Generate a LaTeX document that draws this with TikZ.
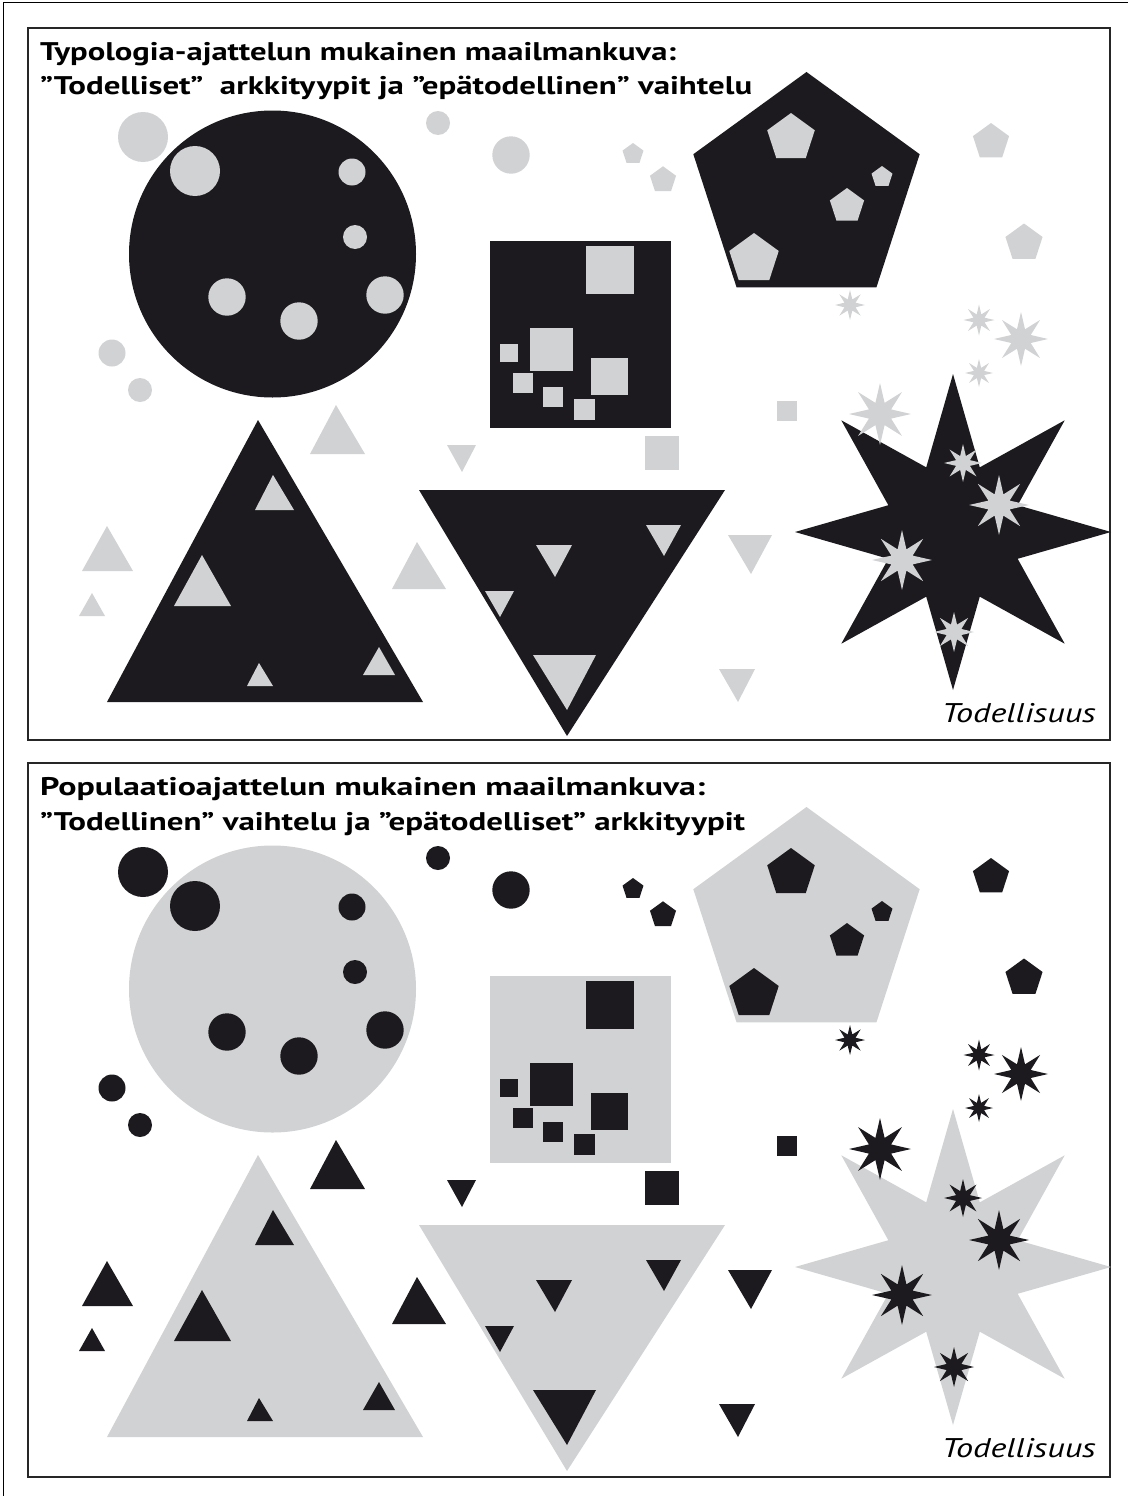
\documentclass[tikz,border=0pt]{standalone}
\usepackage{graphicx}
\usepackage{fontspec}
\setmainfont{PT Sans}
\definecolor{blk}{HTML}{1C1A1E}
\definecolor{gry}{HTML}{D1D2D4}
\newcommand\pent[4]{\fill[#1,shift={(#2,#3)}] (-90:#4) -- (-18:#4) -- (54:#4) -- (126:#4) -- (198:#4) -- cycle;}
\newcommand\astar[5]{\fill[#1,shift={(#2,#3)}] (-90:#4) \foreach \k in {1,...,15}{ -- ({-90+22.5*\k}:{mod(\k,2)==1 ? #5 : #4}) } -- cycle;}
\newcommand\tri[6]{\fill[#1] (#2,#3) -- (#5,#4) -- (#6,#4) -- cycle;}
\newcommand\sq[5]{\fill[#1] (#2,#3) rectangle (#4,#5);}
\newcommand\disc[4]{\fill[#1] (#2,#3) circle (#4);}
\newcommand\wide[2]{\resizebox{#1pt}{\height}{#2}}
\newcommand\panelshapes[2]{%
 % big shapes
 \disc{#1}{272.5}{254}{143.5}
 \pent{#1}{806.5}{191}{119}
 \sq{#1}{490}{241}{671}{428}
 \tri{#1}{258}{420}{702}{107}{423}
 \tri{#1}{567}{736}{490}{419}{725}
 \astar{#1}{953}{532}{158}{70}
 % circles
 \disc{#2}{195}{171}{25}
 \disc{#2}{352}{172}{13.5}
 \disc{#2}{355}{237}{12}
 \disc{#2}{227}{297}{18.7}
 \disc{#2}{299}{321}{18.7}
 \disc{#2}{385}{295}{18.7}
 \disc{#2}{143}{137}{25}
 \disc{#2}{112}{353}{13.5}
 \disc{#2}{140}{390}{12}
 \disc{#2}{438}{123}{12}
 \disc{#2}{511}{155}{18.7}
 % pentagons
 \pent{#2}{633}{154}{11}
 \pent{#2}{663}{180}{13.7}
 \pent{#2}{791}{138}{25}
 \pent{#2}{882}{177}{11}
 \pent{#2}{847}{206}{18}
 \pent{#2}{754}{259}{26}
 \pent{#2}{991}{142}{19}
 \pent{#2}{1024}{243}{19.5}
 % squares
 \sq{#2}{586}{246}{634}{294}
 \sq{#2}{530}{328}{573}{371}
 \sq{#2}{500}{344}{518}{362}
 \sq{#2}{513}{373}{533}{393}
 \sq{#2}{543}{387}{563}{407}
 \sq{#2}{574}{399}{595}{420}
 \sq{#2}{591}{358}{628}{395}
 \sq{#2}{645}{436}{679}{470}
 \sq{#2}{777}{401}{797}{421}
 % up triangles
 \tri{#2}{273}{475}{510}{255}{294}
 \tri{#2}{202}{555}{606}{174}{231}
 \tri{#2}{259}{663}{686}{247}{273}
 \tri{#2}{379}{647}{675}{363}{395}
 \tri{#2}{336}{405}{454}{310}{365}
 \tri{#2}{107}{526}{571}{82}{133}
 \tri{#2}{92}{593}{616}{79}{105}
 \tri{#2}{417}{542}{589}{392}{446}
 % down triangles
 \tri{#2}{555}{577}{545}{536}{572}
 \tri{#2}{664}{556}{525}{646}{681}
 \tri{#2}{500}{617}{591}{485}{514}
 \tri{#2}{567}{710}{655}{533}{596}
 \tri{#2}{462}{472}{445}{447}{476}
 \tri{#2}{751}{574}{535}{728}{772}
 \tri{#2}{738}{702}{669}{719}{755}
 % stars
 \astar{#2}{979}{320}{15.5}{6}
 \astar{#2}{1021}{339}{27}{10.5}
 \astar{#2}{979}{373}{14}{5.5}
 \astar{#2}{850}{305}{15}{6}
 \astar{#2}{880}{414}{31}{12}
 \astar{#2}{963}{463}{19}{7.5}
 \astar{#2}{999}{505}{30}{11.5}
 \astar{#2}{902}{560}{30}{11.5}
 \astar{#2}{954}{632}{20}{8}
}
\tikzset{panelframe/.style={draw=black!85,line width=1.5pt},
 titletext/.style={anchor=base west,inner sep=0pt,font=\fontsize{25.5}{28}\selectfont\bfseries},
 realtext/.style={anchor=base east,inner sep=0pt,font=\fontsize{27}{30}\selectfont\itshape}}
\begin{document}
\begin{tikzpicture}[x=1pt,y=-1pt]
\useasboundingbox (0,0) rectangle (1128,1496);
\fill[white] (0,0) rectangle (1128,1496);
\draw[line width=1pt] (3,1496) -- (3,3) -- (1128,3);
% panel 1
\draw[panelframe] (28,28) rectangle (1110,740);
\panelshapes{blk}{gry}
\node[titletext] (t1a) at (40,60) {\wide{636}{Typologia-ajattelun mukainen maailmankuva:}};
\node[titletext] (t1b) at (40,95) {\wide{712}{”Todelliset”\ \ arkkityypit ja ”epätodellinen” vaihtelu}};
\node[realtext] (r1) at (1096,722) {\wide{154}{Todellisuus}};
% panel 2
\draw[panelframe] (28,763) rectangle (1110,1477);
\begin{scope}[shift={(0,735)}]
\panelshapes{gry}{blk}
\end{scope}
\node[titletext] (t2a) at (40,795) {\wide{665}{Populaatioajattelun mukainen maailmankuva:}};
\node[titletext] (t2b) at (40,830) {\wide{705}{”Todellinen” vaihtelu ja ”epätodelliset” arkkityypit}};
\node[realtext] (r2) at (1096,1457) {\wide{154}{Todellisuus}};
\end{tikzpicture}
\end{document}
